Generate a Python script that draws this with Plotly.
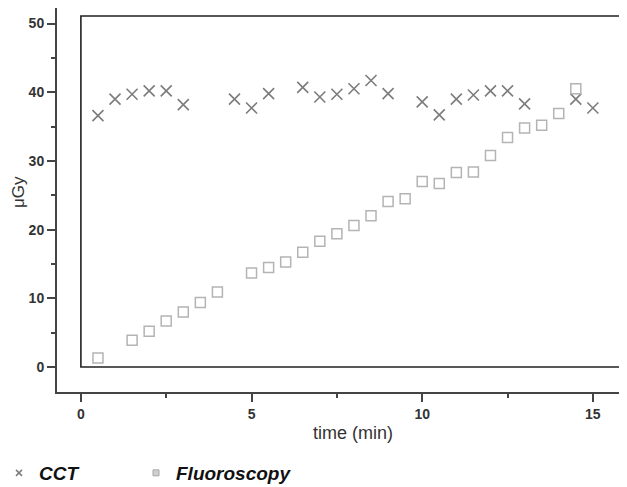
import plotly.graph_objects as go

# CCT dose readings
cct_time = [0.5, 1.0, 1.5, 2.0, 2.5, 3.0, 4.5, 5.0, 5.5, 6.5, 7.0, 7.5, 8.0, 8.5, 9.0,
            10.0, 10.5, 11.0, 11.5, 12.0, 12.5, 13.0, 14.5, 15.0]
cct_dose = [36.6, 39.0, 39.7, 40.2, 40.2, 38.2, 39.0, 37.7, 39.8, 40.7, 39.3, 39.7, 40.5, 41.7, 39.8,
            38.6, 36.7, 39.0, 39.6, 40.2, 40.2, 38.3, 39.0, 37.7]

# Fluoroscopy dose readings
fl_time = [0.5, 1.5, 2.0, 2.5, 3.0, 3.5, 4.0, 5.0, 5.5, 6.0, 6.5, 7.0, 7.5, 8.0, 8.5, 9.0, 9.5,
           10.0, 10.5, 11.0, 11.5, 12.0, 12.5, 13.0, 13.5, 14.0, 14.5]
fl_dose = [1.3, 3.9, 5.2, 6.7, 8.0, 9.4, 10.9, 13.7, 14.5, 15.3, 16.7, 18.3, 19.4, 20.6, 22.0, 24.1, 24.5,
           27.0, 26.7, 28.3, 28.4, 30.8, 33.4, 34.8, 35.2, 36.9, 40.5]

x_ticks = [0, 5, 10, 15]
y_ticks = [0, 10, 20, 30, 40, 50]

CCT_COLOR = "#7c7c7c"
FL_COLOR = "#b4b4b4"
FONT = "Liberation Sans, Arial, sans-serif"

# The page body adds an 8px margin, so the figure is sized/positioned to compensate.
OFF = 8
PLOT_L, PLOT_T, PLOT_B = 57, 8, 392
PLOT_W = 627 - PLOT_L
PLOT_H = PLOT_B - PLOT_T
FIG_W = 627 - OFF
FIG_H = 487 - OFF


def px_x(p):
    return (p - PLOT_L) / PLOT_W


def px_y(p):
    return (PLOT_B - p) / PLOT_H


fig = go.Figure()
fig.add_trace(go.Scatter(x=cct_time, y=cct_dose, mode="markers", showlegend=False,
                         marker=dict(symbol="x-thin", size=11, line=dict(color=CCT_COLOR, width=1.6))))
fig.add_trace(go.Scatter(x=fl_time, y=fl_dose, mode="markers", showlegend=False,
                         marker=dict(symbol="square-open", size=10, color=FL_COLOR, line=dict(width=1.5))))
# legend-only entries with small symbols
fig.add_trace(go.Scatter(x=[None], y=[None], mode="markers", name="CCT", legend="legend",
                         marker=dict(symbol="x-thin", size=6, line=dict(color=CCT_COLOR, width=1.5))))
fig.add_trace(go.Scatter(x=[None], y=[None], mode="markers", name="Fluoroscopy", legend="legend2",
                         marker=dict(symbol="square", size=6, color="#cfcfcf", line=dict(color="#a8a8a8", width=1))))

# inner frame box
fig.add_shape(type="rect", xref="x", yref="y", x0=0, x1=15.96, y0=0, y1=51.1,
              line=dict(color="#222222", width=1.6), layer="below")

fig.add_annotation(text="time (min)", xref="paper", yref="paper", x=px_x(353), y=px_y(433),
                   showarrow=False, font=dict(family=FONT, size=18, color="#333333"),
                   xanchor="center", yanchor="middle")
fig.add_annotation(text="μGy", xref="paper", yref="paper", x=px_x(18), y=px_y(192),
                   showarrow=False, textangle=-90, font=dict(family=FONT, size=17, color="#333333"),
                   xanchor="center", yanchor="middle")

legend_font = dict(family=FONT, size=19, color="#111111", weight="bold", style="italic")
fig.update_layout(
    width=FIG_W, height=FIG_H,
    margin=dict(l=PLOT_L - OFF, r=0, t=PLOT_T - OFF, b=FIG_H - (PLOT_B - OFF), autoexpand=False),
    paper_bgcolor="white", plot_bgcolor="white",
    font=dict(family=FONT, color="#333333"),
    legend=dict(orientation="h", x=px_x(-1), xanchor="left", y=px_y(473), yanchor="middle",
                font=legend_font, itemsizing="trace", bgcolor="rgba(0,0,0,0)"),
    legend2=dict(orientation="h", x=px_x(136), xanchor="left", y=px_y(473), yanchor="middle",
                 font=legend_font, itemsizing="trace", bgcolor="rgba(0,0,0,0)"),
)
fig.update_xaxes(range=[-0.7, 16.0], tickvals=x_ticks, ticktext=[str(v) for v in x_ticks],
                 showgrid=False, zeroline=False, showline=True, linecolor="#444444", linewidth=2,
                 ticks="outside", ticklen=8, tickwidth=1.5, tickcolor="#444444",
                 tickfont=dict(family=FONT, size=14, color="#333333", weight="bold"),
                 minor=dict(dtick=2.5, tick0=0, ticks="outside", ticklen=4, tickwidth=1.5, tickcolor="#444444"))
fig.update_yaxes(range=[-3.64, 52.26], tickvals=y_ticks, ticktext=[str(v) for v in y_ticks],
                 showgrid=False, zeroline=False, showline=True, linecolor="#444444", linewidth=2,
                 ticks="outside", ticklen=8, tickwidth=1.5, tickcolor="#444444",
                 tickfont=dict(family=FONT, size=14, color="#333333", weight="bold"),
                 minor=dict(dtick=5, tick0=0, ticks="outside", ticklen=4, tickwidth=1.5, tickcolor="#444444"))

fig.write_html("out.html")
